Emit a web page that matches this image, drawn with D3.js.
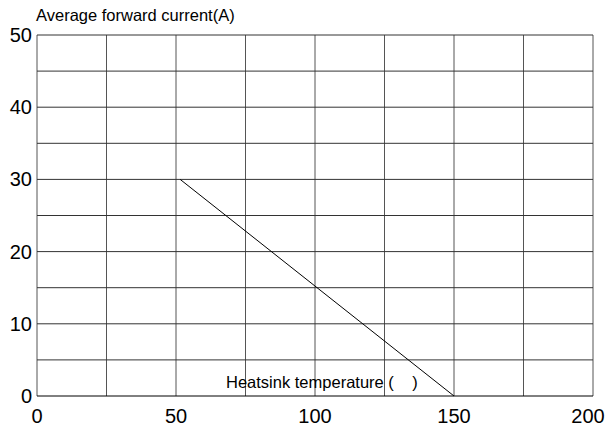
<!DOCTYPE html>
<html>
<body style="margin:0;background:white">
<style>
    body { font-family: "Liberation Sans", Arial, sans-serif; }
    text { fill: black; }
</style>
<svg id="view" width="609" height="430"></svg>
<script src="https://cdnjs.cloudflare.com/ajax/libs/d3/7.8.5/d3.min.js"></script>
<script>
    // derating curve: temperature (x) vs average forward current (y)
    const tempPoints = [51.5, 150];
    const currentPoints = [30, 0];
    const xTicks = [0, 50, 100, 150, 200];
    const yTicks = [0, 10, 20, 30, 40, 50];
    const xGrid = [0, 25, 50, 75, 100, 125, 150, 175, 200];
    const yGrid = [0, 5, 10, 15, 20, 25, 30, 35, 40, 45, 50];
    const yTitle = 'Average forward current(A)';
    const xTitle = 'Heatsink temperature (    )';

    const svg = d3.select('#view');
    const plotL = 37, plotR = 593, plotT = 35, plotB = 396;

    const x = d3.scaleLinear().domain([0, 200]).range([plotL, plotR]);
    const y = d3.scaleLinear().domain([0, 50]).range([plotB, plotT]);

    // grid
    svg.append('g').selectAll('line').data(xGrid).join('line')
        .attr('x1', d => x(d)).attr('x2', d => x(d))
        .attr('y1', plotT).attr('y2', plotB)
        .attr('stroke', '#555').attr('stroke-width', 1);
    svg.append('g').selectAll('line').data(yGrid).join('line')
        .attr('x1', plotL).attr('x2', plotR)
        .attr('y1', d => y(d)).attr('y2', d => y(d))
        .attr('stroke', d => d === 0 ? '#000' : '#333').attr('stroke-width', 1);

    // tick labels
    svg.append('g').selectAll('text').data(yTicks).join('text')
        .attr('x', plotL - 5).attr('y', d => y(d) + 7)
        .attr('text-anchor', 'end')
        .style('font-size', '20px')
        .text(d => d);
    svg.append('g').selectAll('text').data(xTicks).join('text')
        .attr('x', d => Math.min(x(d), 588)).attr('y', 423)
        .attr('text-anchor', 'middle')
        .style('font-size', '20px')
        .text(d => d);

    // titles
    svg.append('text').attr('x', 36).attr('y', 21)
        .style('font-size', '16.5px').text(yTitle);
    svg.append('text').attr('x', 226).attr('y', 388)
        .style('font-size', '16.5px').style('white-space', 'pre').text(xTitle);

    // curve
    const line = d3.line().x(d => x(d[0])).y(d => y(d[1]));
    svg.append('path')
        .datum(d3.zip(tempPoints, currentPoints))
        .attr('d', line)
        .attr('fill', 'none').attr('stroke', 'black').attr('stroke-width', 1);
</script>
</body>
</html>
